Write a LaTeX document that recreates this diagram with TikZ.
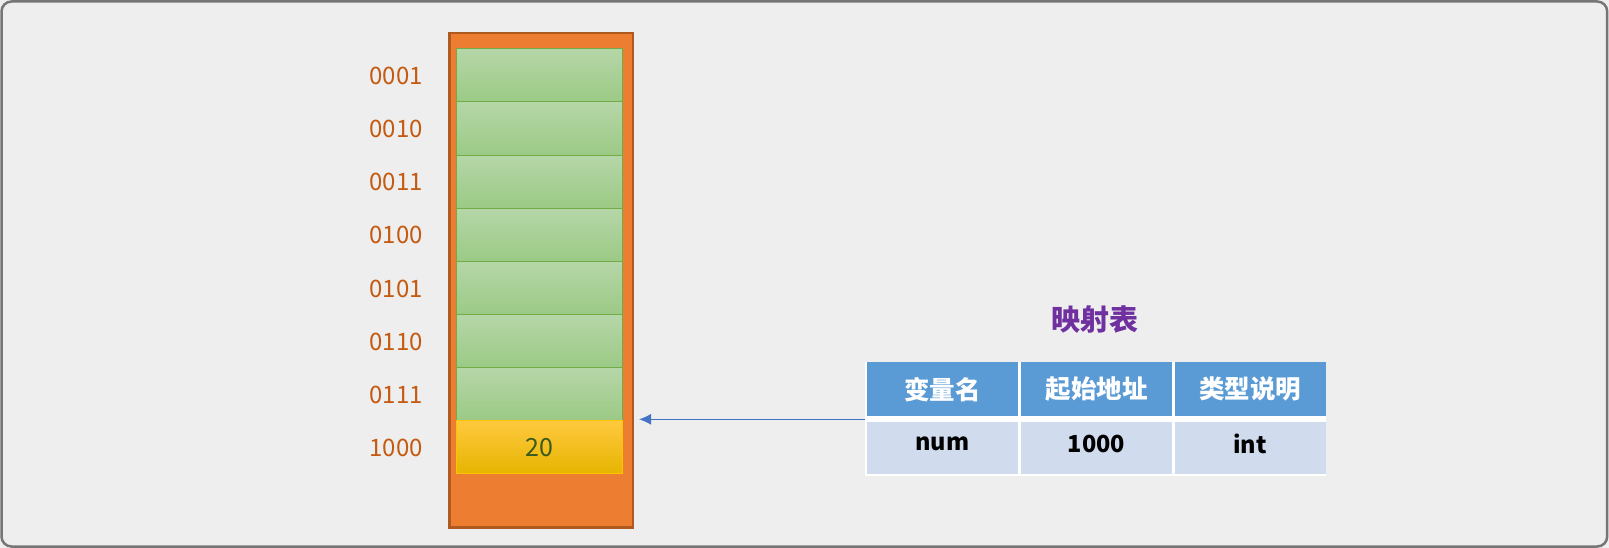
\documentclass[tikz,border=0pt]{standalone}
\usepackage{fontspec}
\usetikzlibrary{arrows.meta}
\setmainfont{Noto Sans CJK SC}
\definecolor{bgc}{HTML}{EEEEEE}
\definecolor{framec}{HTML}{767676}
\definecolor{orangef}{HTML}{ED7D31}
\definecolor{oranged}{HTML}{AE5A21}
\definecolor{labelc}{HTML}{C55A11}
\definecolor{gtop}{HTML}{B6D6A8}
\definecolor{gbot}{HTML}{9BCA85}
\definecolor{gline}{HTML}{70AD47}
\definecolor{ytop}{HTML}{FFC93F}
\definecolor{ymid}{HTML}{FFC400}
\definecolor{ybot}{HTML}{E6B400}
\definecolor{numc}{HTML}{3A5A1E}
\definecolor{hdrc}{HTML}{5B9BD5}
\definecolor{datc}{HTML}{D0DCEE}
\definecolor{arrc}{HTML}{4472C4}
\definecolor{titlec}{HTML}{7030A0}
\tikzset{
  addr/.style={text=labelc, font=\fontsize{24}{28}\selectfont, inner sep=0pt},
  gcell/.style={rectangle, draw=gline, line width=1pt, top color=gtop, bottom color=gbot,
    minimum width=165.5pt, minimum height=53.1pt, inner sep=0pt, anchor=north west},
  ycell/.style={rectangle, draw=ymid, line width=1pt, top color=ytop, middle color=ymid, bottom color=ybot,
    minimum width=165.5pt, minimum height=53.1pt, inner sep=0pt, anchor=north west,
    text=numc, font=\fontsize{25}{28}\selectfont},
  hcell/.style={rectangle, fill=hdrc, minimum width=151pt, minimum height=54pt, inner sep=0pt,
    text=white, font=\bfseries\fontsize{25.5}{28}\selectfont},
  dcell/.style={rectangle, fill=datc, minimum width=151pt, minimum height=52.5pt, inner sep=0pt},
  dtext/.style={text=black, font=\bfseries\fontsize{23.5}{28}\selectfont, inner sep=0pt},
}
\begin{document}
\begin{tikzpicture}[x=1pt,y=-1pt]
\useasboundingbox (0,0) rectangle (1609,548);
\fill[bgc] (0,0) rectangle (1609,548);
\draw[framec, line width=2.5pt, rounded corners=10pt, fill=bgc] (1.5,1.5) rectangle (1607.2,546.5);
% memory column
\node[rectangle, draw=oranged, fill=orangef, line width=2.5pt, anchor=north west,
  minimum width=183.4pt, minimum height=494.3pt, inner sep=0pt] (mem) at (448.3,31.7) {};
\foreach \i/\t in {0/0001,1/0010,2/0011,3/0100,4/0101,5/0110,6/0111} {
  \node[gcell] (c\i) at (456.2,{48.3+53.125*\i}) {};
  \node[addr] (a\i) at (396,{76+53.125*\i}) {\t};
}
\node[ycell] (c7) at (456.2,420.2) {20};
\node[addr] (a7) at (396,447.9) {1000};
% mapping table
\node[text=titlec, font=\bfseries\fontsize{29}{32}\selectfont, inner sep=0pt] (title) at (1095,320) {映射表};
\fill[white] (865,361.5) rectangle (1325.5,475.8);
\node[hcell] (h1) at (942.5,389.2) {变量名};
\node[hcell] (h2) at (1096.5,389.2) {起始地址};
\node[hcell] (h3) at (1250,389.2) {类型说明};
\node[dcell] (d1) at (942.5,447.8) {};
\node[dcell] (d2) at (1096.5,447.8) {};
\node[dcell] (d3) at (1250,447.8) {};
\node[dtext] (t1) at (942.5,443.5) {num};
\node[dtext] (t2) at (1096.5,443.5) {1000};
\node[dtext] (t3) at (1250,443.5) {int};
\coordinate (src) at (865,419.3);
\coordinate (tip) at (639,419.3);
\draw[arrc, line width=1.2pt, -{Latex[length=12pt,width=11pt]}] (src) -- (tip);
\end{tikzpicture}
\end{document}
